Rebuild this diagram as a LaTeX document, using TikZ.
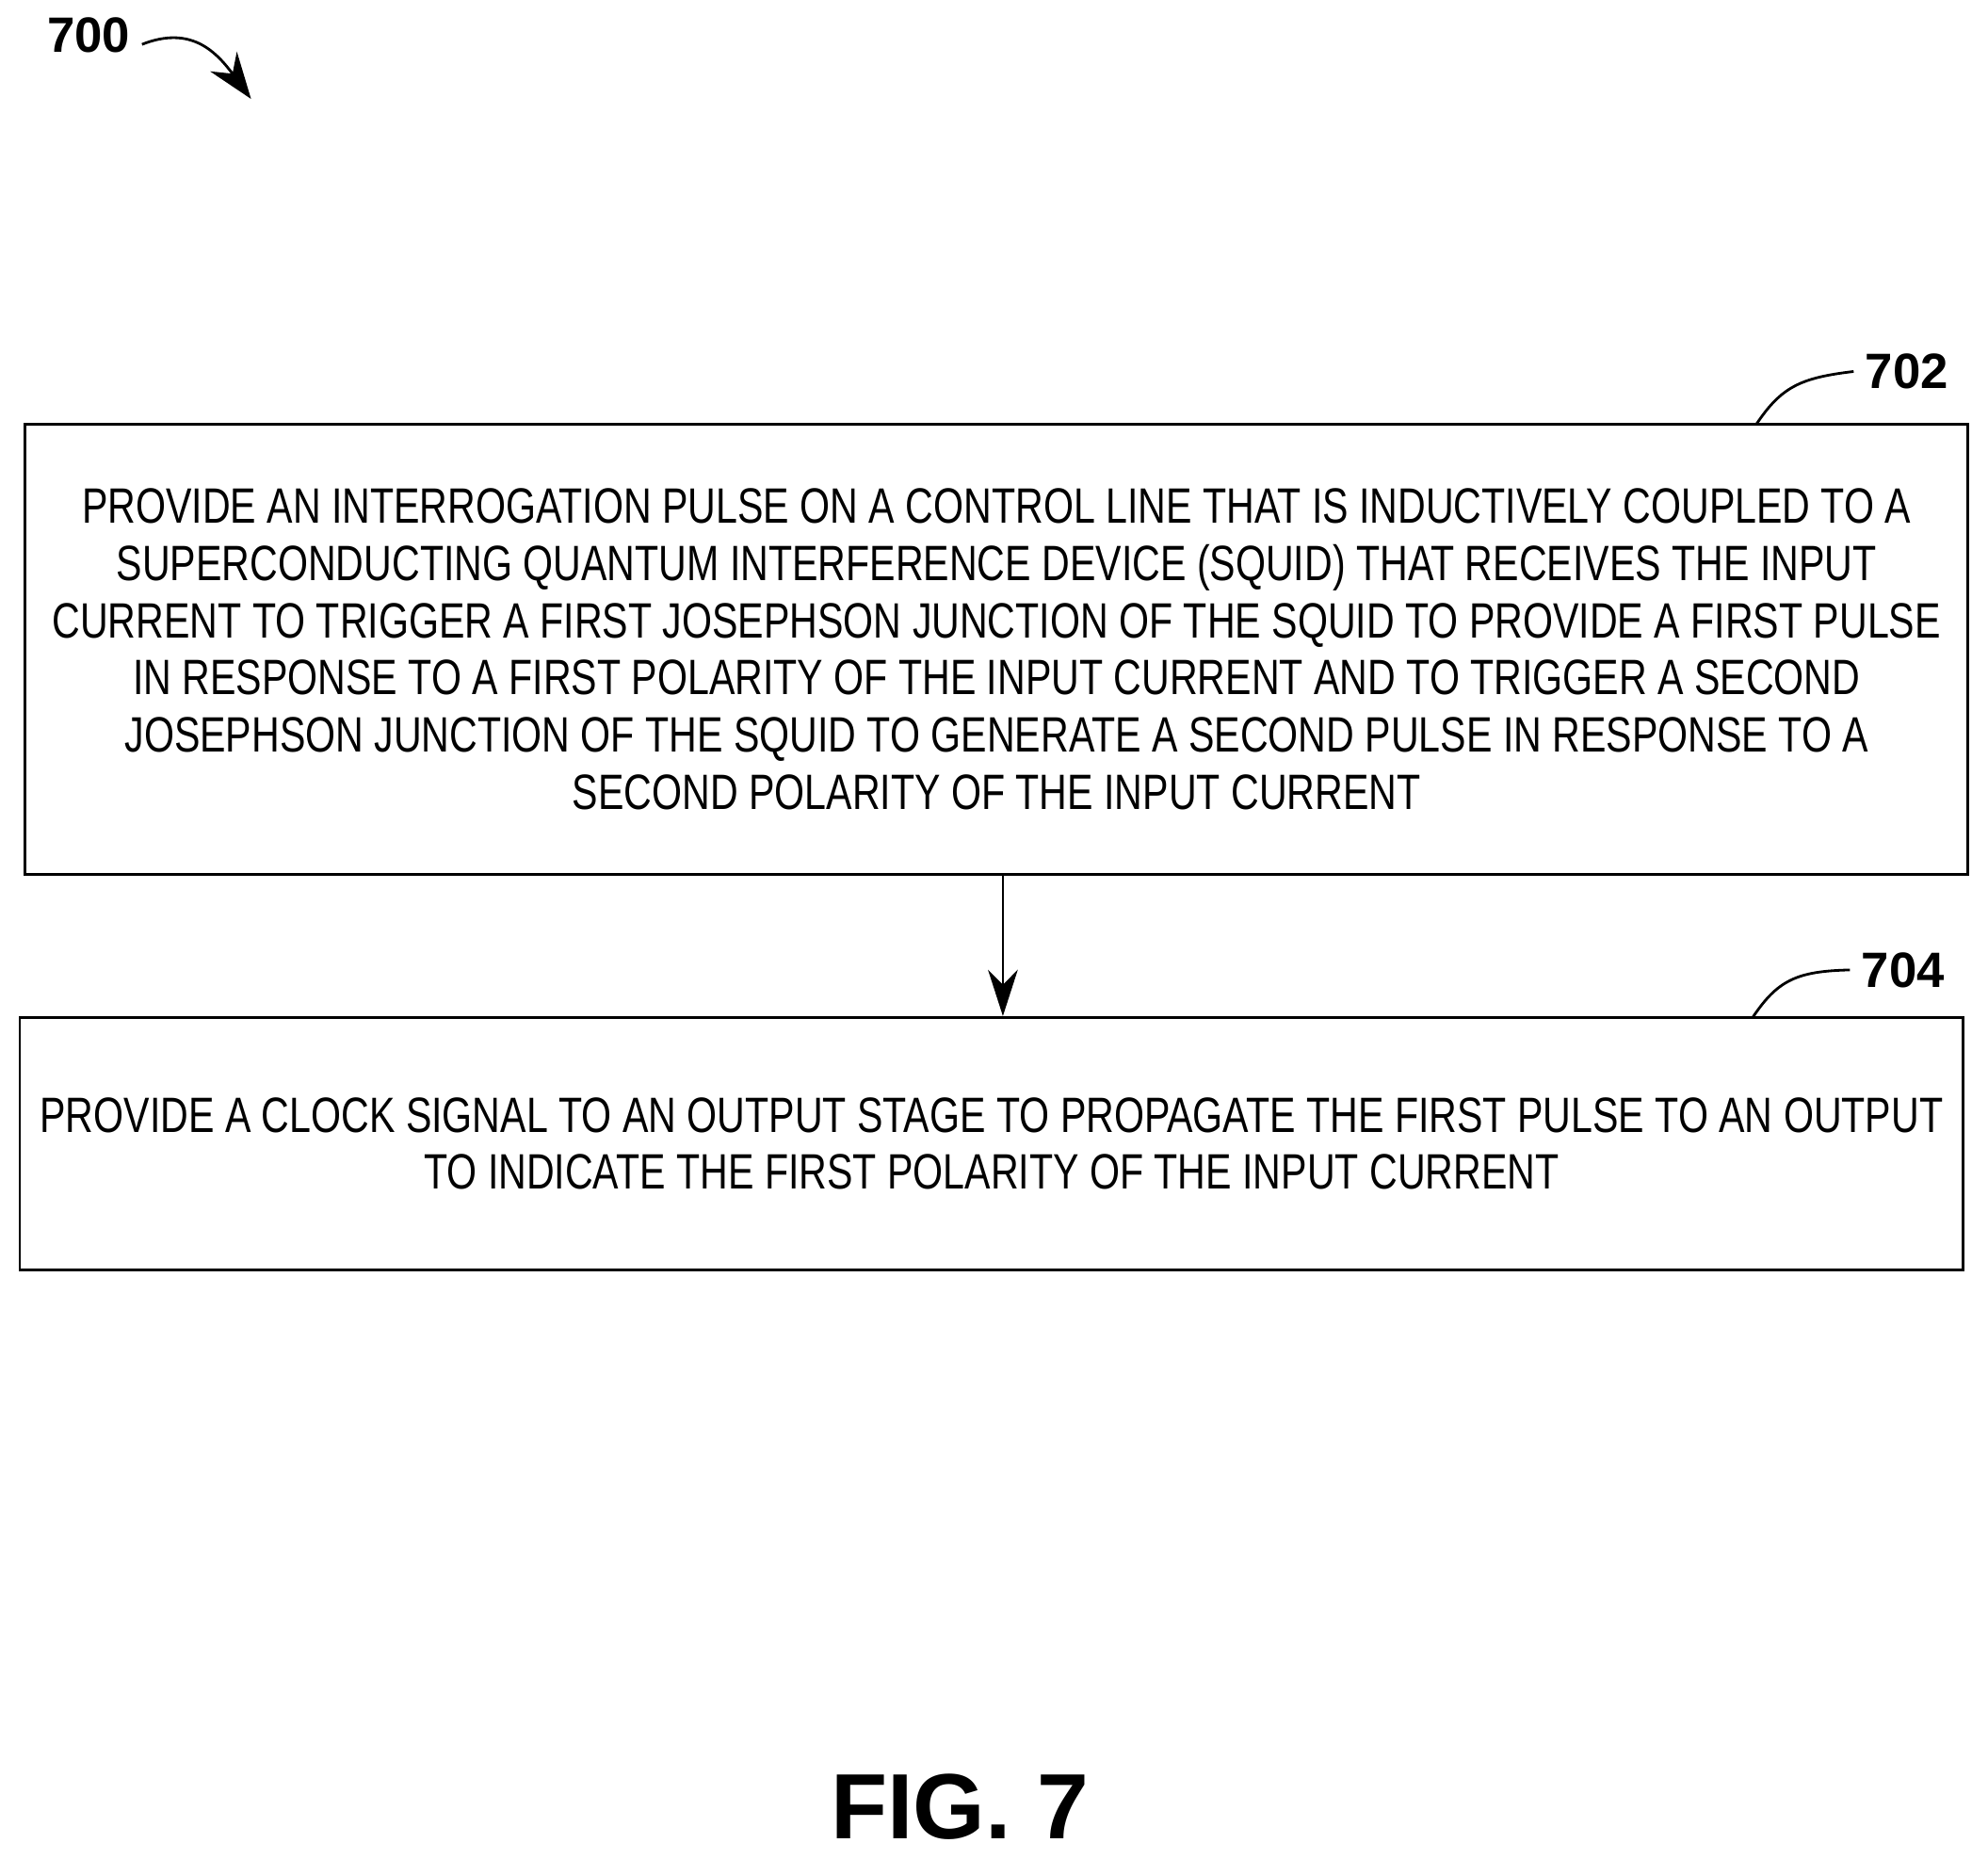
\documentclass[tikz,border=0pt]{standalone}
\usepackage{fontspec}
\setmainfont{Liberation Sans}
\newfontfamily\boxfont[FakeStretch=0.78]{Liberation Sans}
\usetikzlibrary{positioning,arrows.meta}
\tikzset{
  stepbox/.style={draw,thick,align=center,font=\boxfont\fontsize{15}{17.3}\selectfont,inner sep=0pt},
  ref/.style={font=\bfseries\fontsize{15}{15}\selectfont},
  lead/.style={thick}
}
\begin{document}
\begin{tikzpicture}[x=0.01346cm,y=-0.01346cm]
\useasboundingbox (0,0) rectangle (1568,1466);
\node[ref] (n700) at (70,28) {700};
\draw[thick,-{Stealth[length=14pt,width=10pt]}] (112,35) .. controls (150,20) and (170,40) .. (198,78);
% steps
\node[stepbox,minimum width=20.62cm,minimum height=4.78cm] (s702) at (786,512) {PROVIDE AN INTERROGATION PULSE ON A CONTROL LINE THAT IS INDUCTIVELY COUPLED TO A\\SUPERCONDUCTING QUANTUM INTERFERENCE DEVICE (SQUID) THAT RECEIVES THE INPUT\\CURRENT TO TRIGGER A FIRST JOSEPHSON JUNCTION OF THE SQUID TO PROVIDE A FIRST PULSE\\IN RESPONSE TO A FIRST POLARITY OF THE INPUT CURRENT AND TO TRIGGER A SECOND\\JOSEPHSON JUNCTION OF THE SQUID TO GENERATE A SECOND PULSE IN RESPONSE TO A\\SECOND POLARITY OF THE INPUT CURRENT};
\node[stepbox,minimum width=20.63cm,minimum height=2.68cm] (s704) at (782,902) {PROVIDE A CLOCK SIGNAL TO AN OUTPUT STAGE TO PROPAGATE THE FIRST PULSE TO AN OUTPUT\\TO INDICATE THE FIRST POLARITY OF THE INPUT CURRENT};
\draw[thick,-{Stealth[length=14pt,width=9pt]}] (s702.south -| 791,0) -- (s704.north -| 791,0);
% reference numerals
\node[ref,anchor=west] (n702) at (1462,293) {702};
\coordinate (c702) at (1385,335);
\draw[lead] (c702) .. controls (1405,305) and (1420,298) .. (n702.west);
\node[ref,anchor=west] (n704) at (1459,765) {704};
\coordinate (c704) at (1382,803);
\draw[lead] (c704) .. controls (1402,773) and (1417,766) .. (n704.west);
\node[font=\bfseries\fontsize{28}{28}\selectfont] (fig) at (757,1425) {FIG. 7};
\end{tikzpicture}
\end{document}
